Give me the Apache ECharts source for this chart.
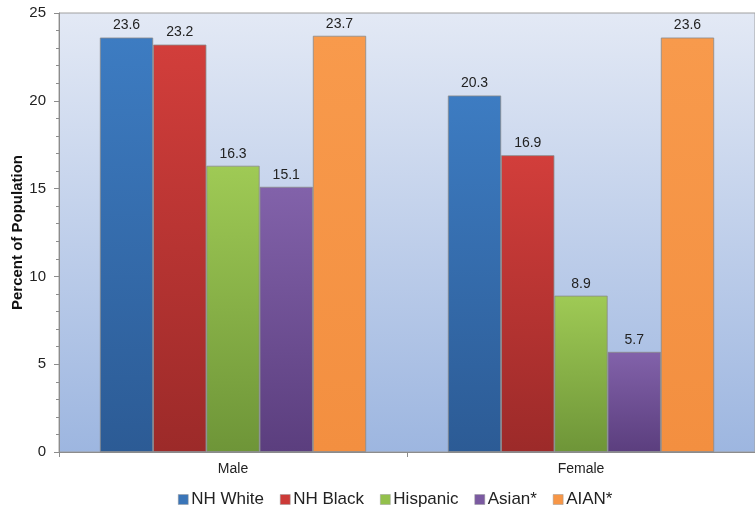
<!DOCTYPE html>
<html><head><meta charset="utf-8">
<script src="https://cdn.jsdelivr.net/npm/echarts@6/dist/echarts.min.js"></script>
<style>html,body{margin:0;padding:0;background:#fff}#c{width:755px;height:512px}</style>
</head><body><div id="c"></div>
<script>
const categories = ['Male', 'Female'];
const seriesNames = ['NH White', 'NH Black', 'Hispanic', 'Asian*', 'AIAN*'];
const nhWhite = [23.6, 20.3];
const nhBlack = [23.2, 16.9];
const hispanic = [16.3, 8.9];
const asian = [15.1, 5.7];
const aian = [23.7, 23.6];
const yTicks = [0, 5, 10, 15, 20, 25];

const values = [nhWhite, nhBlack, hispanic, asian, aian];
const grads = [
  ['#3d7cc2', '#2c5b95'],
  ['#d23e3b', '#9c2a29'],
  ['#9fca55', '#6e9538'],
  ['#8262aa', '#5b3e7e'],
  ['#f89a4c', '#f38f40']
];
const legendColors = ['#3a75b8', '#cc3a37', '#93c04c', '#7b5aa1', '#f79646'];

function lg(c) {
  return new echarts.graphic.LinearGradient(0, 0, 0, 1, [{offset: 0, color: c[0]}, {offset: 1, color: c[1]}]);
}

const chart = echarts.init(document.getElementById('c'), null, {renderer: 'canvas'});
chart.setOption({
  animation: false,
  textStyle: {fontFamily: 'Liberation Sans, Arial, sans-serif'},
  grid: {
    left: 59, right: 0, top: 13, bottom: 60,
    containLabel: false,
    outerBoundsMode: 'none',
    show: true,
    borderColor: '#a0a0a0', borderWidth: 1,
    backgroundColor: new echarts.graphic.LinearGradient(0, 0, 0, 1, [
      {offset: 0, color: '#e3e9f5'}, {offset: 1, color: '#9db6e0'}
    ])
  },
  legend: {
    top: 486, left: 173,
    itemWidth: 10, itemHeight: 10, itemGap: 16,
    icon: 'rect',
    textStyle: {fontSize: 17, color: '#222', padding: [0, 0, 0, -2]},
    data: seriesNames.map((n, i) => ({name: n, itemStyle: {color: legendColors[i], borderColor: '#999', borderWidth: 0.5}}))
  },
  xAxis: {
    type: 'category', data: categories,
    axisLine: {lineStyle: {color: '#8c8c8c'}},
    axisTick: {show: true, length: 5, lineStyle: {color: '#8c8c8c'}},
    axisLabel: {fontSize: 14, color: '#222', margin: 10}
  },
  yAxis: {
    type: 'value', min: 0, max: 25, interval: 5,
    name: 'Percent of Population', nameLocation: 'middle', nameGap: 34,
    nameMoveOverlap: false,
    nameTextStyle: {fontSize: 15, fontWeight: 'bold', color: '#111'},
    axisLine: {show: true, lineStyle: {color: '#8c8c8c'}},
    axisTick: {show: true, length: 5, lineStyle: {color: '#8c8c8c'}},
    minorTick: {show: true, splitNumber: 5, length: 3, lineStyle: {color: '#8c8c8c'}},
    splitLine: {show: false},
    axisLabel: {fontSize: 15, color: '#222', margin: 13,
      formatter: v => yTicks.includes(v) ? String(v) : ''}
  },
  series: seriesNames.map((n, i) => ({
    name: n, type: 'bar', data: values[i],
    barGap: '0%', barCategoryGap: '23.5%',
    itemStyle: {color: lg(grads[i]), borderColor: '#8a8a8a', borderWidth: 0.8},
    label: {show: true, position: 'top', fontSize: 14, color: '#222', distance: 5,
      formatter: p => p.value.toFixed(1)}
  }))
});
</script></body></html>
